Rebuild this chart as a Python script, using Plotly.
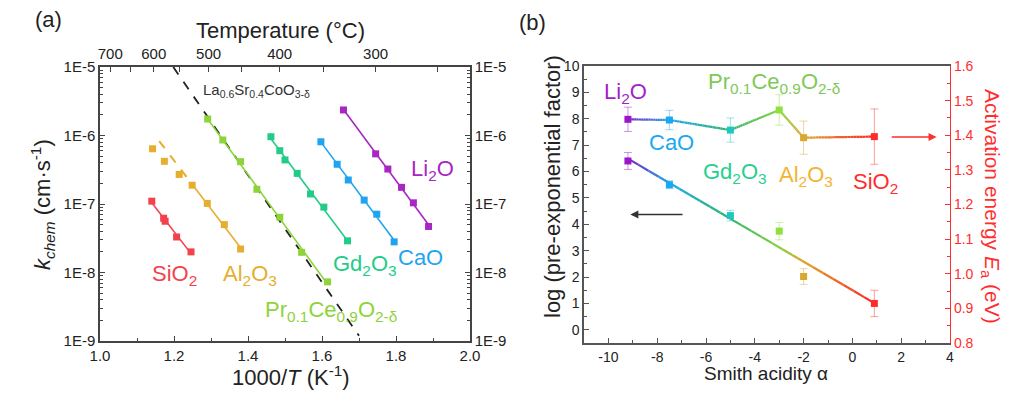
import numpy as np
import plotly.graph_objects as go

# ---------------- Panel (a) data: 1000/T (K^-1) and k_chem (cm/s) ----------------
sio2_x = [1.140, 1.172, 1.176, 1.207, 1.246]
sio2_k = [1.1e-7, 6.2e-8, 5.6e-8, 3.3e-8, 2.0e-8]

al2o3_x = [1.142, 1.174, 1.214, 1.249, 1.290, 1.336, 1.380]
al2o3_k = [6.4e-7, 4.2e-7, 2.7e-7, 1.88e-7, 1.02e-7, 5.0e-8, 2.2e-8]
al2o3_fit_from = 3          # fit uses the low-temperature points
al2o3_dash_start = 1.160    # extrapolated (dashed) part of the fit

prce_x = [1.291, 1.332, 1.380, 1.424, 1.486, 1.545, 1.615]
prce_k = [1.74e-6, 8.6e-7, 4.15e-7, 1.64e-7, 6.4e-8, 1.97e-8, 7.3e-9]

gd_x = [1.462, 1.486, 1.500, 1.533, 1.569, 1.605, 1.669]
gd_k = [9.6e-7, 6.0e-7, 4.4e-7, 2.8e-7, 1.4e-7, 9.0e-8, 2.9e-8]

cao_x = [1.597, 1.641, 1.671, 1.714, 1.748, 1.795]
cao_k = [8.1e-7, 3.8e-7, 2.24e-7, 1.14e-7, 7.1e-8, 2.8e-8]

li2o_x = [1.658, 1.745, 1.778, 1.815, 1.847, 1.888]
li2o_k = [2.36e-6, 5.4e-7, 3.24e-7, 1.75e-7, 1.04e-7, 4.7e-8]

lsc_x = [1.198, 1.700]
lsc_k = [1.0e-5, 1.19e-9]

temp_major = [700, 600, 500, 400, 300]
temp_minor = [650, 550, 450, 350, 250]
k_ticks = [1e-9, 1e-8, 1e-7, 1e-6, 1e-5]
k_ticktext = ["1E-9", "1E-8", "1E-7", "1E-6", "1E-5"]

# ---------------- Panel (b) data ----------------
oxides = ["Li2O", "CaO", "Gd2O3", "PrCeO", "Al2O3", "SiO2"]
smith_acidity = [-9.2, -7.5, -5.0, -3.0, -2.0, 0.9]
ea = [1.446, 1.444, 1.415, 1.473, 1.393, 1.396]
ea_err = [0.035, 0.028, 0.035, 0.044, 0.048, 0.08]
log_pre = [6.40, 5.50, 4.33, 3.74, 2.02, 1.00]
log_pre_err = [0.32, 0.15, 0.20, 0.33, 0.30, 0.50]

acid_ticks = [-10, -8, -6, -4, -2, 0, 2, 4]
acid_ticktext = ["-10", "-8", "-6", "-4", "-2", "0", "2", "4"]

# ---------------- styling ----------------
W, H = 1024, 396
OFF = 8   # the page body adds an 8 px margin; compensate so the layout lands where intended
FONT = "Arial"
AX = "#444444"
RED = "#ff2e2e"

col_a = {"SiO2": "#f4424d", "Al2O3": "#e6ae2e", "PrCeO": "#8cd43a",
         "Gd2O3": "#22cc88", "CaO": "#1fa5f0", "Li2O": "#a726c4"}
col_b_marker = ["#9a16c8", "#1aa8ef", "#1ec8c0", "#8ee03c", "#d9a830", "#ff2b2b"]
col_b_grad = ["#7a22c4", "#1fa8ee", "#2eb46a", "#86d23e", "#e0a52a", "#ff2222"]


def px(x):
    return (x - OFF) / W


def py(y):
    return 1 - (y - OFF) / H


def hex2rgb(h):
    h = h.lstrip("#")
    return tuple(int(h[i:i + 2], 16) for i in (0, 2, 4))


def rgba(h, a):
    r, g, b = hex2rgb(h)
    return f"rgba({r},{g},{b},{a})"


def color_at(x):
    xs = smith_acidity
    rgb = np.array([hex2rgb(c) for c in col_b_grad], dtype=float)
    out = [np.interp(x, xs, rgb[:, i]) for i in range(3)]
    return "rgb(%d,%d,%d)" % tuple(int(round(v)) for v in out)


fig = go.Figure()


def add_series(xs, ks, color, fit_idx=0, dash_from=None):
    lx = np.array(xs[fit_idx:])
    ly = np.log10(ks[fit_idx:])
    m, b = np.polyfit(lx, ly, 1)
    xa = np.array([lx.min(), lx.max()])
    fig.add_trace(go.Scatter(x=xa, y=10 ** (m * xa + b), mode="lines",
                             line=dict(color=color, width=1.6),
                             xaxis="x", yaxis="y", hoverinfo="skip", showlegend=False))
    if dash_from is not None:
        xd = np.array([dash_from, lx.min()])
        fig.add_trace(go.Scatter(x=xd, y=10 ** (m * xd + b), mode="lines",
                                 line=dict(color=color, width=2, dash="dash"),
                                 xaxis="x", yaxis="y", hoverinfo="skip", showlegend=False))
    fig.add_trace(go.Scatter(x=xs, y=ks, mode="markers",
                             marker=dict(symbol="square", size=7, color=color),
                             xaxis="x", yaxis="y", showlegend=False))


# LSC reference line
fig.add_trace(go.Scatter(x=lsc_x, y=lsc_k, mode="lines",
                         line=dict(color="#222222", width=1.8, dash="dash"),
                         xaxis="x", yaxis="y", hoverinfo="skip", showlegend=False))
add_series(sio2_x, sio2_k, col_a["SiO2"])
add_series(al2o3_x, al2o3_k, col_a["Al2O3"], fit_idx=al2o3_fit_from, dash_from=al2o3_dash_start)
add_series(prce_x, prce_k, col_a["PrCeO"])
add_series(gd_x, gd_k, col_a["Gd2O3"])
add_series(cao_x, cao_k, col_a["CaO"])
add_series(li2o_x, li2o_k, col_a["Li2O"])

# dummy traces so that the top (temperature) and right mirror axes get drawn
fig.add_trace(go.Scatter(x=[None], y=[None], xaxis="x2", yaxis="y", showlegend=False, hoverinfo="skip"))
fig.add_trace(go.Scatter(x=[None], y=[None], xaxis="x", yaxis="y2", showlegend=False, hoverinfo="skip"))

# ---------------- panel (b) ----------------
N_SUB = 24


def gradient_path(xs, ys, yaxis):
    for i in range(len(xs) - 1):
        t = np.linspace(0, 1, N_SUB + 1)
        sx = xs[i] + (xs[i + 1] - xs[i]) * t
        sy = ys[i] + (ys[i + 1] - ys[i]) * t
        for j in range(N_SUB):
            fig.add_trace(go.Scatter(x=sx[j:j + 2], y=sy[j:j + 2], mode="lines",
                                     line=dict(color=color_at(0.5 * (sx[j] + sx[j + 1])), width=2.2),
                                     xaxis="x3", yaxis=yaxis, hoverinfo="skip", showlegend=False))


# Ea connected line (right axis)
gradient_path(smith_acidity, ea, "y4")
# linear fit of log prefactor (left axis)
m_b, b_b = np.polyfit(smith_acidity, log_pre, 1)
fx = [min(smith_acidity), max(smith_acidity)]
gradient_path(fx, [m_b * v + b_b for v in fx], "y3")

for i in range(len(oxides)):
    c = col_b_marker[i]
    fig.add_trace(go.Scatter(x=[smith_acidity[i]], y=[ea[i]], mode="markers",
                             marker=dict(symbol="square", size=7, color=c),
                             error_y=dict(type="data", array=[ea_err[i]], color=rgba(c, 0.45),
                                          thickness=1, width=4),
                             xaxis="x3", yaxis="y4", showlegend=False))
    fig.add_trace(go.Scatter(x=[smith_acidity[i]], y=[log_pre[i]], mode="markers",
                             marker=dict(symbol="square", size=7, color=c),
                             error_y=dict(type="data", array=[log_pre_err[i]], color=rgba(c, 0.45),
                                          thickness=1, width=4),
                             xaxis="x3", yaxis="y3", showlegend=False))

# ---------------- axes ----------------
tickfont_a = dict(family=FONT, size=15, color="#222")
tickfont_b = dict(family=FONT, size=14, color="#222")
dom_ax = [px(100), px(470)]
dom_ay = [py(341), py(67)]
dom_bx = [px(584), px(950)]
dom_by = [py(343), py(66)]

k_minor = [m * 10.0 ** e for e in range(-9, -5) for m in range(2, 10)]
t_major = [1000 / (t + 273.15) for t in temp_major]
t_minor = [1000 / (t + 273.15) for t in temp_minor]

common = dict(showgrid=False, zeroline=False, showline=True, linewidth=1.5, automargin=False,
              ticks="inside", ticklen=5, tickwidth=1.2)

fig.update_layout(
    width=W, height=H, margin=dict(l=0, r=0, t=0, b=0, autoexpand=False),
    paper_bgcolor="white", plot_bgcolor="white", showlegend=False,
    font=dict(family=FONT, color="#222"),
    xaxis=dict(domain=dom_ax, range=[1.0, 2.0], anchor="y", dtick=0.2, tick0=1.0,
               tickformat=".1f", linecolor=AX, tickcolor=AX, tickfont=tickfont_a,
               minor=dict(dtick=0.1, ticks="inside", ticklen=3, tickcolor=AX), **common),
    xaxis2=dict(overlaying="x", side="top", anchor="y", range=[1.0, 2.0],
                tickmode="array", tickvals=t_major, ticktext=[str(t) for t in temp_major],
                linecolor=AX, tickcolor=AX, tickfont=tickfont_a,
                minor=dict(tickmode="array", tickvals=t_minor, ticks="inside", ticklen=5, tickcolor=AX),
                **common),
    yaxis=dict(domain=dom_ay, type="log", range=[-9, -5], anchor="x",
               tickmode="array", tickvals=k_ticks, ticktext=k_ticktext,
               linecolor=AX, tickcolor=AX, tickfont=tickfont_a,
               minor=dict(tickmode="array", tickvals=k_minor, ticks="inside", ticklen=3, tickcolor=AX),
               **common),
    yaxis2=dict(overlaying="y", side="right", anchor="x", type="log", range=[-9, -5],
                tickmode="array", tickvals=k_ticks, ticktext=k_ticktext,
                linecolor=AX, tickcolor=AX, tickfont=tickfont_a,
                minor=dict(tickmode="array", tickvals=k_minor, ticks="inside", ticklen=3, tickcolor=AX),
                **common),
    xaxis3=dict(domain=dom_bx, range=[-11, 4], anchor="y3",
                tickmode="array", tickvals=acid_ticks, ticktext=acid_ticktext,
                linecolor="#555", tickcolor="#555", tickfont=tickfont_b, mirror=True,
                minor=dict(dtick=1, ticks="inside", ticklen=3, tickcolor="#555"), **common),
    yaxis3=dict(domain=dom_by, range=[-0.5, 10], anchor="x3", dtick=1, tick0=0,
                linecolor="#555", tickcolor="#555", tickfont=tickfont_b,
                minor=dict(dtick=0.5, ticks="inside", ticklen=3, tickcolor="#555"), **common),
    yaxis4=dict(overlaying="y3", side="right", anchor="x3", range=[0.8, 1.6], dtick=0.1, tick0=0.8,
                tickformat=".1f", linecolor=RED, tickcolor=RED,
                tickfont=dict(family=FONT, size=14, color=RED),
                minor=dict(dtick=0.05, ticks="inside", ticklen=3, tickcolor=RED),
                showgrid=False, zeroline=False, showline=True, linewidth=1.2, automargin=False,
                ticks="inside", ticklen=5, tickwidth=1.2),
)

# ---------------- text ----------------
def label(text, x, y, size, color="#222", angle=0):
    fig.add_annotation(text=text, x=px(x), y=py(y), xref="paper", yref="paper",
                       xanchor="center", yanchor="middle", showarrow=False, textangle=angle,
                       font=dict(family=FONT, size=size, color=color))


label("(a)", 48, 20, 22)
label("(b)", 532, 22, 22)
label("Temperature (°C)", 280, 30, 22)
label("1000/<i>T</i> (K<sup>-1</sup>)", 291, 376, 22)
label("<i>k</i><sub><i>chem</i></sub> (cm·s<sup>-1</sup>)", 43, 205, 22, angle=-90)
label("La<sub>0.6</sub>Sr<sub>0.4</sub>CoO<sub>3-δ</sub>", 256, 91, 15, "#333")
label("SiO<sub>2</sub>", 174, 275, 22, col_a["SiO2"])
label("Al<sub>2</sub>O<sub>3</sub>", 250, 275, 22, col_a["Al2O3"])
label("Gd<sub>2</sub>O<sub>3</sub>", 365, 265, 22, col_a["Gd2O3"])
label("CaO", 420, 258, 22, col_a["CaO"])
label("Li<sub>2</sub>O", 432, 170, 22, col_a["Li2O"])
label("Pr<sub>0.1</sub>Ce<sub>0.9</sub>O<sub>2-δ</sub>", 331, 311, 22, col_a["PrCeO"])

label("Li<sub>2</sub>O", 625, 93, 22, "#a21fc8")
label("CaO", 671, 143, 22, "#1aa8ef")
label("Gd<sub>2</sub>O<sub>3</sub>", 735, 173, 22, "#25d08f")
label("Pr<sub>0.1</sub>Ce<sub>0.9</sub>O<sub>2-δ</sub>", 774, 83, 22, "#80c85a")
label("Al<sub>2</sub>O<sub>3</sub>", 806, 176, 22, "#f2b431")
label("SiO<sub>2</sub>", 875, 183, 22, RED)
label("log (pre-exponential factor)", 552, 187, 22, angle=-90)
label("Activation energy <i>E</i><sub>a</sub> (eV)", 991, 206, 21, RED, angle=90)
label("Smith acidity α", 766, 373, 19)

# arrows
fig.add_annotation(x=-9.1, y=4.37, ax=-6.9, ay=4.37, xref="x3", yref="y3", axref="x3", ayref="y3",
                   showarrow=True, arrowhead=2, arrowsize=1, arrowwidth=1.6, arrowcolor="#333", text="")
fig.add_annotation(x=3.45, y=1.395, ax=1.55, ay=1.395, xref="x3", yref="y4", axref="x3", ayref="y4",
                   showarrow=True, arrowhead=2, arrowsize=1, arrowwidth=1.6, arrowcolor=RED, text="")

fig.write_html("out.html")
